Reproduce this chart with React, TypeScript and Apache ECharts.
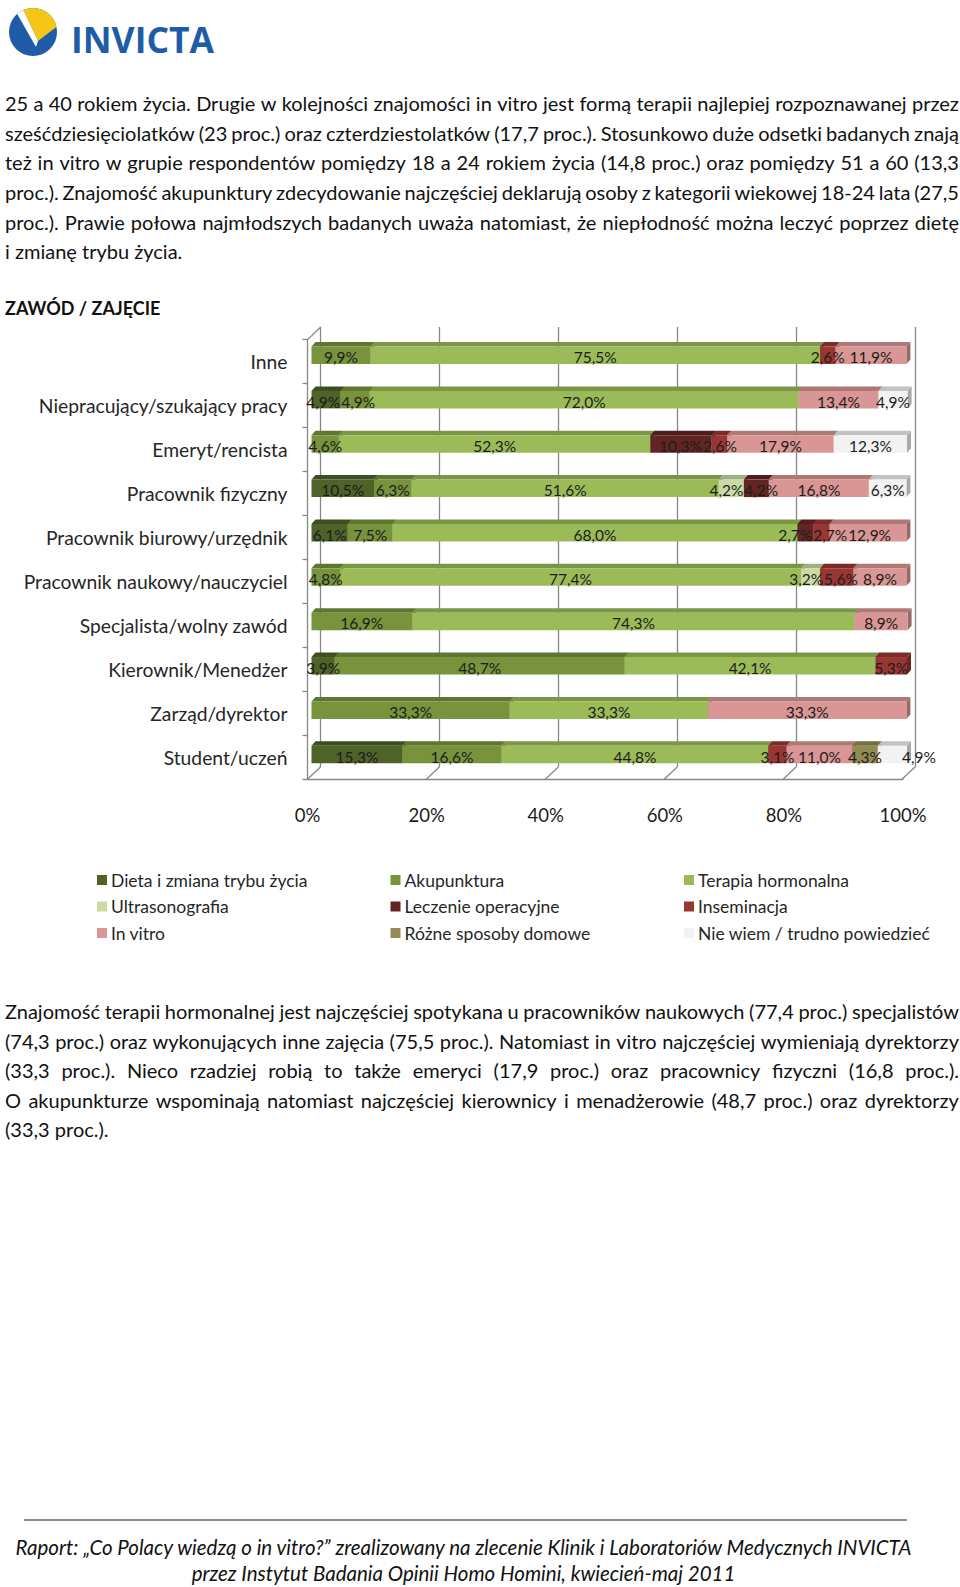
import React, { useEffect, useRef } from "react";
import * as echarts from "echarts";

// ---------- DATA ----------
const categories = [
  "Inne",
  "Niepracujący/szukający pracy",
  "Emeryt/rencista",
  "Pracownik fizyczny",
  "Pracownik biurowy/urzędnik",
  "Pracownik naukowy/nauczyciel",
  "Specjalista/wolny zawód",
  "Kierownik/Menedżer",
  "Zarząd/dyrektor",
  "Student/uczeń",
];

const seriesNames = [
  "Dieta i zmiana trybu życia",
  "Akupunktura",
  "Terapia hormonalna",
  "Ultrasonografia",
  "Leczenie operacyjne",
  "Inseminacja",
  "In vitro",
  "Różne sposoby domowe",
  "Nie wiem / trudno powiedzieć",
];

const dieta = [0, 4.9, 0, 10.5, 6.1, 0, 0, 3.9, 0, 15.3];
const akupunktura = [9.9, 4.9, 4.6, 6.3, 7.5, 4.8, 16.9, 48.7, 33.3, 16.6];
const terapiaHormonalna = [75.5, 72.0, 52.3, 51.6, 68.0, 77.4, 74.3, 42.1, 33.3, 44.8];
const ultrasonografia = [0, 0, 0, 4.2, 0, 3.2, 0, 0, 0, 0];
const leczenieOperacyjne = [0, 0, 10.3, 4.2, 2.7, 0, 0, 0, 0, 0];
const inseminacja = [2.6, 0, 2.6, 0, 2.7, 5.6, 0, 5.3, 0, 3.1];
const inVitro = [11.9, 13.4, 17.9, 16.8, 12.9, 8.9, 8.9, 0, 33.3, 11.0];
const domowe = [0, 0, 0, 0, 0, 0, 0, 0, 0, 4.3];
const nieWiem = [0, 4.9, 12.3, 6.3, 0, 0, 0, 0, 0, 4.9];

const seriesColors = [
  "#4F6228",
  "#77933C",
  "#9BBB59",
  "#C9DBA3",
  "#632523",
  "#983634",
  "#D99694",
  "#948A54",
  "#F2F2F2",
];

const xTicks = [0, 20, 40, 60, 80, 100];

const legendColumns = [
  [0, 3, 6],
  [1, 4, 7],
  [2, 5, 8],
];

const paragraph1 = [
  "25 a 40 rokiem życia. Drugie w kolejności znajomości in vitro jest formą terapii najlepiej rozpoznawanej przez",
  "sześćdziesięciolatków (23 proc.) oraz czterdziestolatków (17,7 proc.). Stosunkowo duże odsetki badanych znają",
  "też in vitro w grupie respondentów pomiędzy 18 a 24 rokiem życia (14,8 proc.) oraz pomiędzy 51 a 60 (13,3",
  "proc.). Znajomość akupunktury zdecydowanie najczęściej deklarują osoby z kategorii wiekowej 18-24 lata (27,5",
  "proc.). Prawie połowa najmłodszych badanych uważa natomiast, że niepłodność można leczyć poprzez dietę",
  "i zmianę trybu życia.",
];

const paragraph2 = [
  "Znajomość terapii hormonalnej jest najczęściej spotykana u pracowników naukowych (77,4 proc.) specjalistów",
  "(74,3 proc.) oraz wykonujących inne zajęcia (75,5 proc.). Natomiast in vitro najczęściej wymieniają dyrektorzy",
  "(33,3 proc.). Nieco rzadziej robią to także emeryci (17,9 proc.) oraz pracownicy fizyczni (16,8 proc.).",
  "O akupunkturze wspominają natomiast najczęściej kierownicy i menadżerowie (48,7 proc.) oraz dyrektorzy",
  "(33,3 proc.).",
];

const footerLines = [
  "Raport: „Co Polacy wiedzą o in vitro?” zrealizowany na zlecenie Klinik i Laboratoriów Medycznych INVICTA",
  "przez Instytut Badania Opinii Homo Homini, kwiecień-maj 2011",
];

// ---------- HELPERS ----------
function shade(hex: string, f: number) {
  const n = parseInt(hex.slice(1), 16);
  const r = Math.round(((n >> 16) & 255) * f);
  const g = Math.round(((n >> 8) & 255) * f);
  const b = Math.round((n & 255) * f);
  return "rgb(" + r + "," + g + "," + b + ")";
}
function fmt(v: number) {
  return v.toFixed(1).replace(".", ",") + "%";
}

const FONT = "Lato";
const TXT = "#1c1c1c";
const AXIS = "#878787";
const LABEL_SIZE = 15.5;

// bar grid geometry
const BAR_LEFT = 311.5;
const BAR_WIDTH = 595.5;
// bar geometry (front face height and 3D depth offset)
const BH = 17.5;
const BDX = 4;
const BDY = 4.5;
// floor depth (front -> back)
const FDX = 13.2;
const FDY = 12.6;

function JustLine({ text, last }: { text: string; last: boolean }) {
  const words = text.split(" ");
  if (last) {
    return <div style={{ height: 29.6, lineHeight: "29.6px", whiteSpace: "nowrap" }}>{text}</div>;
  }
  return (
    <div
      style={{
        height: 29.6,
        lineHeight: "29.6px",
        display: "flex",
        justifyContent: "space-between",
        whiteSpace: "nowrap",
      }}
    >
      {words.map((w, i) => (
        <span key={i}>{w}</span>
      ))}
    </div>
  );
}

function Paragraph({ lines, top }: { lines: string[]; top: number }) {
  return (
    <div
      style={{
        position: "absolute",
        left: 5,
        top,
        width: 954,
        fontFamily: FONT,
        fontSize: 20,
        color: "#111",
      }}
    >
      {lines.map((l, i) => (
        <JustLine key={i} text={l} last={i === lines.length - 1} />
      ))}
    </div>
  );
}

function Logo() {
  return (
    <svg width={240} height={66} style={{ position: "absolute", left: 0, top: 0 }}>
      <defs>
        <clipPath id="logoClip">
          <circle cx={33} cy={32} r={24} />
        </clipPath>
      </defs>
      <circle cx={33} cy={32} r={24} fill="#1F5CA8" />
      <g clipPath="url(#logoClip)">
        <polygon points="20,3 64,3 64,21 38,41" fill="#F5C518" />
        <polygon points="11,3 20,3 38,41 36,47" fill="#ffffff" />
      </g>
      <text
        x={71}
        y={53.3}
        fontFamily="Open Sans"
        fontWeight={700}
        fontSize={35.5}
        fill="#1F5CA8"
      >
        INVICTA
      </text>
    </svg>
  );
}

export default function App() {
  const ref = useRef<HTMLDivElement>(null);

  useEffect(() => {
    if (!ref.current) return;
    const chart = echarts.init(ref.current, null, { renderer: "svg" });

    const values = [
      dieta,
      akupunktura,
      terapiaHormonalna,
      ultrasonografia,
      leczenieOperacyjne,
      inseminacja,
      inVitro,
      domowe,
      nieWiem,
    ];
    const cum = categories.map(() => 0);
    const segs = values.map((arr) =>
      arr
        .map((v, i) => {
          const s = cum[i];
          cum[i] += v;
          return [s, i, s + v, v];
        })
        .filter((d) => d[3] > 0)
    );

    // ---- label placement: centred in segment, pushed apart where they collide ----
    const canvas = document.createElement("canvas");
    const ctx = canvas.getContext("2d") as CanvasRenderingContext2D;
    ctx.font = LABEL_SIZE + "px " + FONT;
    const pxPerUnit = BAR_WIDTH / 100;
    const labelData: number[][] = [];
    categories.forEach((_, ci) => {
      const row = segs.map((s) => s.find((d) => d[1] === ci)).filter(Boolean) as number[][];
      const items = row.map((d) => ({
        d,
        c: (d[0] + d[2]) / 2,
        w: ctx.measureText(fmt(d[3])).width / pxPerUnit,
      }));
      // last label goes past the bar end when it is crowded by the previous one
      const n = items.length;
      if (n > 1) {
        const last = items[n - 1];
        const prev = items[n - 2];
        if (last.c - prev.c < 5.2) {
          last.c = last.d[2] + last.w / 2 - 5 / pxPerUnit;
        }
      }
      const pad = 1 / pxPerUnit;
      for (let it = 0; it < 30; it++) {
        for (let j = 0; j < n - 1; j++) {
          const a = items[j];
          const b = items[j + 1];
          const ov = (a.w + b.w) / 2 + pad - (b.c - a.c);
          if (ov > 0) {
            a.c -= ov / 2;
            b.c += ov / 2;
          }
        }
      }
      items.forEach((o) => labelData.push([o.c, ci, o.d[3]]));
    });

    const barSeries = seriesNames.map((name, k) => {
      const color = seriesColors[k];
      return {
        type: "custom",
        name,
        xAxisIndex: 2,
        yAxisIndex: 2,
        silent: true,
        z: 3,
        itemStyle: { color },
        encode: { x: [0, 2], y: 1 },
        data: segs[k],
        renderItem: (params: any, api: any) => {
          const p0 = api.coord([api.value(0), api.value(1)]);
          const p1 = api.coord([api.value(2), api.value(1)]);
          const x0 = p0[0];
          const x1 = p1[0];
          const yT = p0[1] - BH / 2;
          const yB = p0[1] + BH / 2;
          return {
            type: "group",
            children: [
              {
                type: "polygon",
                shape: { points: [[x1, yT], [x1 + BDX, yT - BDY], [x1 + BDX, yB - BDY], [x1, yB]] },
                style: { fill: shade(color, 0.7) },
              },
              {
                type: "polygon",
                shape: { points: [[x0, yT], [x1, yT], [x1 + BDX, yT - BDY], [x0 + BDX, yT - BDY]] },
                style: { fill: shade(color, 0.8) },
              },
              {
                type: "rect",
                shape: { x: x0, y: yT, width: x1 - x0, height: BH },
                style: { fill: color },
              },
            ],
          };
        },
      };
    });

    const labelSeries = {
      type: "custom",
      name: "labels",
      xAxisIndex: 2,
      yAxisIndex: 2,
      silent: true,
      z: 5,
      encode: { x: 0, y: 1 },
      data: labelData,
      renderItem: (params: any, api: any) => {
        const p = api.coord([api.value(0), api.value(1)]);
        return {
          type: "text",
          x: p[0],
          y: p[1] + 2,
          style: {
            text: fmt(api.value(2)),
            align: "center",
            verticalAlign: "middle",
            font: LABEL_SIZE + "px " + FONT,
            fill: TXT,
          },
        };
      },
    };

    const frameData = xTicks.map((t) => [t, 0]).concat([[0, 1]]);
    const frameSeries = {
      type: "custom",
      name: "frame",
      xAxisIndex: 0,
      yAxisIndex: 0,
      silent: true,
      z: 1,
      data: frameData,
      renderItem: (params: any, api: any) => {
        const p = api.coord([api.value(0), api.value(1)]);
        return {
          type: "line",
          shape: { x1: p[0], y1: p[1], x2: p[0] - FDX, y2: p[1] + FDY },
          style: { stroke: AXIS, lineWidth: 1.3 },
        };
      },
    };

    const legends = legendColumns.map((col, ci) => ({
      orient: "vertical",
      left: [97, 390.5, 684][ci],
      top: 550,
      padding: 0,
      itemWidth: 10,
      itemHeight: 10,
      itemGap: 6.5,
      icon: "rect",
      selectedMode: false,
      textStyle: { fontFamily: FONT, fontSize: 17.5, color: "#262626", lineHeight: 20, padding: [0, 0, 0, -1] },
      data: col.map((k) => ({ name: seriesNames[k], itemStyle: { color: seriesColors[k] } })),
    }));

    chart.setOption({
      animation: false,
      textStyle: { fontFamily: FONT },
      legend: legends,
      grid: [
        // back wall
        { left: 320.7, top: 7, width: 594.5, height: 439.7 },
        // front frame / axes
        { left: 307.5, top: 19.6, width: 595.5, height: 439.7 },
        // bars
        { left: BAR_LEFT, top: 13.1, width: BAR_WIDTH, height: 443.6 },
      ],
      xAxis: [
        {
          gridIndex: 0,
          type: "value",
          min: 0,
          max: 100,
          interval: 20,
          axisLine: { show: false },
          axisTick: { show: false },
          axisLabel: { show: false },
          splitLine: { show: true, lineStyle: { color: AXIS, width: 1.3 } },
        },
        {
          gridIndex: 1,
          type: "value",
          min: 0,
          max: 100,
          interval: 20,
          axisLine: { show: true, lineStyle: { color: AXIS, width: 1.3 } },
          axisTick: { show: false },
          splitLine: { show: false },
          axisLabel: {
            formatter: "{value}%",
            fontFamily: FONT,
            fontSize: 18.5,
            color: TXT,
            margin: 26,
          },
        },
        {
          gridIndex: 2,
          type: "value",
          min: 0,
          max: 100,
          show: false,
        },
      ],
      yAxis: [
        { gridIndex: 0, type: "value", min: 0, max: 1, show: false },
        {
          gridIndex: 1,
          type: "category",
          inverse: true,
          data: categories,
          axisLine: { show: true, lineStyle: { color: AXIS, width: 1.3 } },
          axisTick: { show: true, length: 5, lineStyle: { color: AXIS, width: 1.3 } },
          axisLabel: { fontFamily: FONT, fontSize: 19.3, color: "#262626", margin: 20 },
          splitLine: { show: false },
        },
        { gridIndex: 2, type: "category", inverse: true, data: categories, show: false },
      ],
      series: [frameSeries, ...barSeries, labelSeries],
    });

    return () => chart.dispose();
  }, []);

  return (
    <div
      style={{
        position: "absolute",
        left: 0,
        top: 0,
        width: 960,
        height: 1587,
        background: "#fff",
        overflow: "hidden",
      }}
    >
      <Logo />
      <Paragraph lines={paragraph1} top={89.2} />
      <div
        style={{
          position: "absolute",
          left: 5,
          top: 293.5,
          lineHeight: "29.6px",
          fontFamily: FONT,
          fontSize: 18,
          fontWeight: 700,
          color: "#111",
          whiteSpace: "nowrap",
        }}
      >
        ZAWÓD / ZAJĘCIE
      </div>
      <div ref={ref} style={{ position: "absolute", left: 0, top: 320, width: 960, height: 640 }} />
      <Paragraph lines={paragraph2} top={997} />
      <div
        style={{
          position: "absolute",
          left: 24,
          top: 1519,
          width: 883,
          height: 2,
          background: "#8c8c8c",
        }}
      />
      <div
        style={{
          position: "absolute",
          left: 0,
          top: 1535,
          width: 927,
          textAlign: "center",
          fontFamily: FONT,
          fontStyle: "italic",
          fontSize: 20.5,
          lineHeight: "25.5px",
          color: "#111",
        }}
      >
        {footerLines.map((l, i) => (
          <div key={i} style={{ whiteSpace: "nowrap" }}>
            {l}
          </div>
        ))}
      </div>
    </div>
  );
}
